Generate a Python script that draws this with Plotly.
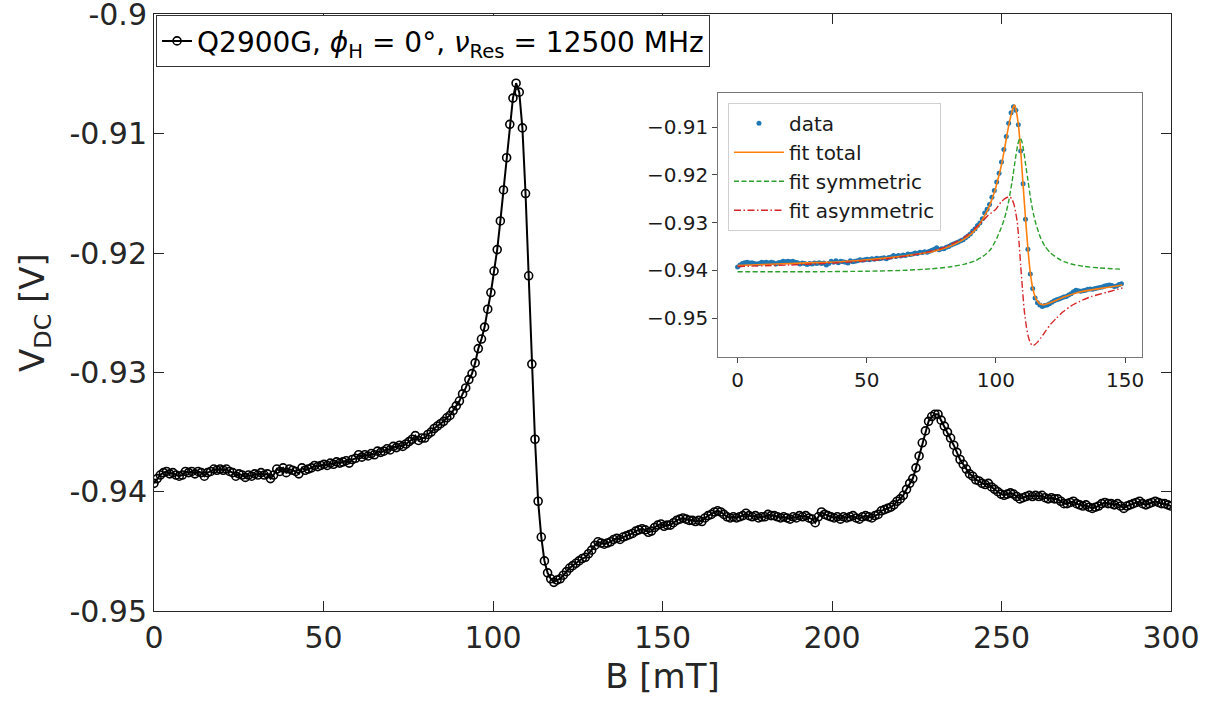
import numpy as np
import plotly.graph_objects as go

# ---------------- data ----------------
B_START, B_STOP, N_POINTS = 0.0, 300.0, 324
B_mT = np.linspace(B_START, B_STOP, N_POINTS)

V_DC = [
    -0.9393, -0.9389, -0.9386, -0.9384, -0.9383, -0.9385, -0.9384, -0.9386, -0.9387, -0.9386,
    -0.9383, -0.9384, -0.9383, -0.9385, -0.9383, -0.9384, -0.9387, -0.9384, -0.9383, -0.9381,
    -0.9382, -0.9381, -0.9382, -0.9381, -0.9383, -0.9384, -0.9387, -0.9385, -0.9386, -0.9388,
    -0.9386, -0.9387, -0.9385, -0.9386, -0.9384, -0.9386, -0.9385, -0.9389, -0.9386, -0.9381,
    -0.9383, -0.9380, -0.9384, -0.9381, -0.9382, -0.9383, -0.9385, -0.9380, -0.9382, -0.9381,
    -0.9380, -0.9378, -0.9379, -0.9378, -0.9377, -0.9378, -0.9376, -0.9377, -0.9375, -0.9376,
    -0.9375, -0.9374, -0.9376, -0.9373, -0.9372, -0.9369, -0.9371, -0.9369, -0.9370, -0.9368,
    -0.9369, -0.9366, -0.9367, -0.9366, -0.9364, -0.9365, -0.9362, -0.9363, -0.9361, -0.9362,
    -0.9360, -0.9358, -0.9356, -0.9353, -0.9357, -0.9355, -0.9355, -0.9352, -0.9350, -0.9347,
    -0.9345, -0.9343, -0.9341, -0.9338, -0.9336, -0.9332, -0.9328, -0.9324, -0.9318, -0.9313,
    -0.9306, -0.9301, -0.9292, -0.9280, -0.9272, -0.9262, -0.9247, -0.9233, -0.9215, -0.9197,
    -0.9173, -0.9147, -0.9120, -0.9092, -0.9070, -0.90575, -0.9065, -0.9095, -0.9150, -0.9219,
    -0.9293, -0.9356, -0.9408, -0.9438, -0.9458, -0.9468, -0.9473, -0.9476, -0.9474, -0.9473,
    -0.9470, -0.9467, -0.9464, -0.9462, -0.9460, -0.9458, -0.9456, -0.9455, -0.9452, -0.9449,
    -0.9445, -0.9442, -0.9443, -0.9444, -0.9443, -0.9442, -0.9440, -0.9439, -0.9440, -0.9438,
    -0.9437, -0.9436, -0.9435, -0.9433, -0.9432, -0.9431, -0.9432, -0.9434, -0.9433, -0.9430,
    -0.9428, -0.9427, -0.9429, -0.9428, -0.9428, -0.9426, -0.9424, -0.9423, -0.9422, -0.9423,
    -0.9424, -0.9424, -0.9425, -0.9424, -0.9425, -0.9422, -0.9420, -0.9419, -0.9417, -0.9416,
    -0.9417, -0.9419, -0.9421, -0.9422, -0.9421, -0.9422, -0.9421, -0.9420, -0.9418, -0.9420,
    -0.9421, -0.9420, -0.9422, -0.9421, -0.9421, -0.9419, -0.9420, -0.9420, -0.9421, -0.9422,
    -0.9421, -0.9422, -0.9423, -0.9421, -0.9422, -0.9420, -0.9421, -0.9420, -0.9422, -0.9423,
    -0.9426, -0.9421, -0.9417, -0.9419, -0.9420, -0.9421, -0.9422, -0.9421, -0.9423, -0.9421,
    -0.9422, -0.9421, -0.9420, -0.9422, -0.9423, -0.9421, -0.9420, -0.9421, -0.9422, -0.9420,
    -0.9419, -0.9416, -0.9415, -0.9414, -0.9413, -0.9411, -0.9408, -0.9406, -0.9403, -0.9398,
    -0.9393, -0.9389, -0.9380, -0.9370, -0.9359, -0.9349, -0.9341, -0.9337, -0.9335, -0.9335,
    -0.9340, -0.9345, -0.9350, -0.9355, -0.9361, -0.9367, -0.9373, -0.9377, -0.9381, -0.9385,
    -0.9387, -0.9390, -0.9391, -0.9393, -0.9394, -0.9393, -0.9396, -0.9398, -0.9400, -0.9402,
    -0.9403, -0.9402, -0.9401, -0.9402, -0.9404, -0.9406, -0.9405, -0.9404, -0.9403, -0.9404,
    -0.9403, -0.9404, -0.9403, -0.9405, -0.9406, -0.9405, -0.9406, -0.9406, -0.9408, -0.9410,
    -0.9410, -0.9409, -0.9408, -0.9410, -0.9411, -0.9412, -0.9411, -0.9413, -0.9414, -0.9413,
    -0.9412, -0.9410, -0.9409, -0.9410, -0.9410, -0.9411, -0.9410, -0.9412, -0.9414, -0.9412,
    -0.9411, -0.9410, -0.9409, -0.9408, -0.9410, -0.9411, -0.9410, -0.9409, -0.9408, -0.9409,
    -0.9410, -0.9410, -0.9411, -0.9412,
]

INSET_B_MAX = 149.0

# fit curves of the inset
FIT_TOTAL_B = [0, 10, 20, 30, 40, 50, 60, 70, 76, 82, 86, 89, 91.5, 93.5, 95.5, 97.5, 99.5,
               101, 102.2, 103.2, 104.1, 105, 106, 106.8, 107.2, 107.7, 108.2, 108.7, 109.6,
               110.5, 111.5, 112.4, 113.3, 114.2, 115.2, 116.1, 117, 118.5, 120, 122, 125,
               128, 132, 137, 143, 149]
FIT_TOTAL_V = [-0.9390, -0.9388, -0.9386, -0.9384, -0.9382, -0.9378, -0.9373, -0.9366, -0.9360,
               -0.9350, -0.9340, -0.9330, -0.9318, -0.9305, -0.9287, -0.9265, -0.9235, -0.9205,
               -0.9178, -0.9150, -0.9122, -0.9096, -0.9072, -0.9057, -0.9054, -0.9062, -0.9076,
               -0.9095, -0.9150, -0.9219, -0.9293, -0.9355, -0.9404, -0.9436, -0.9456, -0.9465,
               -0.9470, -0.9472, -0.9470, -0.9466, -0.9459, -0.9453, -0.9446, -0.9441, -0.9436,
               -0.9431]

FIT_SYM_B = [0, 30, 50, 65, 75, 82, 88, 92, 95, 98, 100.5, 102, 103.1, 104, 105, 106.3, 107.6,
             108.5, 109.3, 110, 110.9, 111.5, 112.2, 113.5, 114.5, 115.4, 116.5, 117.3, 119,
             121.2, 124, 126.4, 130, 134.2, 140, 149]
FIT_SYM_V = [-0.9403, -0.9403, -0.9402, -0.9400, -0.9397, -0.9393, -0.9387, -0.9380, -0.9371,
             -0.9356, -0.9331, -0.9312, -0.9295, -0.9278, -0.9254, -0.9213, -0.9165, -0.9136,
             -0.9123, -0.9129, -0.9155, -0.9178, -0.9204, -0.9252, -0.9281, -0.9301, -0.9320,
             -0.9332, -0.9350, -0.9364, -0.9375, -0.9382, -0.9388, -0.9392, -0.9395, -0.9398]

FIT_ASYM_B = [0, 20, 40, 55, 70, 80, 88, 93, 97, 100, 102, 103.5, 104.5, 105.4, 106.2, 107,
              107.6, 108.3, 109, 109.6, 110.3, 111, 111.8, 112.6, 113.4, 114.2, 115, 116.2,
              117.5, 119.3, 121.2, 123.5, 126, 129, 132.5, 137, 143, 149]
FIT_ASYM_V = [-0.9392, -0.9389, -0.9384, -0.9378, -0.9366, -0.9352, -0.9330, -0.9307, -0.9285,
              -0.9272, -0.9257, -0.9250, -0.9247, -0.9246, -0.9251, -0.9262, -0.9277, -0.9300,
              -0.9345, -0.9390, -0.9440, -0.9485, -0.9518, -0.9540, -0.9553, -0.9558, -0.9556,
              -0.9550, -0.9541, -0.9527, -0.9513, -0.9500, -0.9487, -0.9475, -0.9465, -0.9455,
              -0.9446, -0.9437]

MAIN_X_TICKS = [0, 50, 100, 150, 200, 250, 300]
MAIN_Y_TICKS = [-0.95, -0.94, -0.93, -0.92, -0.91, -0.9]
MAIN_Y_TICKTEXT = ["-0.95", "-0.94", "-0.93", "-0.92", "-0.91", "-0.9"]
INSET_X_TICKS = [0, 50, 100, 150]
INSET_Y_TICKS = [-0.95, -0.94, -0.93, -0.92, -0.91]
INSET_Y_TICKTEXT = ["\u22120.95", "\u22120.94", "\u22120.93", "\u22120.92", "\u22120.91"]

LEGEND_MAIN = "Q2900G, <i>\u03d5</i><sub>H</sub> = 0\u00b0, <i>\u03bd</i><sub>Res</sub> = 12500 MHz"

# ---------------- figure ----------------
FONT = "DejaVu Sans"
AX_COL = "#262626"

B_arr = np.asarray(B_mT)
V_arr = np.asarray(V_DC)
mask = B_arr <= INSET_B_MAX

fig = go.Figure()

fig.add_trace(go.Scatter(
    x=B_arr, y=V_arr, mode="lines+markers", name=LEGEND_MAIN,
    line=dict(color="black", width=2),
    marker=dict(symbol="circle-open", size=8, color="black", line=dict(width=1.6, color="black")),
    xaxis="x", yaxis="y", legend="legend",
))

fig.add_trace(go.Scatter(
    x=B_arr[mask], y=V_arr[mask], mode="markers", name="data",
    marker=dict(symbol="circle", size=5, color="#1f77b4"),
    xaxis="x2", yaxis="y2", legend="legend2",
))
fig.add_trace(go.Scatter(
    x=FIT_TOTAL_B, y=FIT_TOTAL_V, mode="lines", name="fit total",
    line=dict(color="#ff7f0e", width=1.6, shape="spline", smoothing=0.6),
    xaxis="x2", yaxis="y2", legend="legend2",
))
fig.add_trace(go.Scatter(
    x=FIT_SYM_B, y=FIT_SYM_V, mode="lines", name="fit symmetric",
    line=dict(color="#2ca02c", width=1.4, dash="5px,2.5px", shape="spline", smoothing=0.6),
    xaxis="x2", yaxis="y2", legend="legend2",
))
fig.add_trace(go.Scatter(
    x=FIT_ASYM_B, y=FIT_ASYM_V, mode="lines", name="fit asymmetric",
    line=dict(color="#d62728", width=1.4, dash="7px,2.5px,1.5px,2.5px", shape="spline", smoothing=0.6),
    xaxis="x2", yaxis="y2", legend="legend2",
))

fig.update_layout(
    width=1225, height=702,
    margin=dict(l=154, r=54, t=14, b=91, autoexpand=False),
    paper_bgcolor="white", plot_bgcolor="white",
    font=dict(family=FONT, color=AX_COL),
    xaxis=dict(
        domain=[0, 1], range=[0, 300], tickvals=MAIN_X_TICKS,
        ticks="inside", ticklen=10, tickwidth=1, tickcolor=AX_COL,
        showline=True, linecolor=AX_COL, linewidth=1, mirror="ticks",
        showgrid=False, zeroline=False,
        tickfont=dict(size=30, color=AX_COL, family=FONT),
        title=dict(text="B [mT]", font=dict(size=34, color=AX_COL, family=FONT), standoff=10),
        anchor="y", ticklabeloverflow="allow",
    ),
    yaxis=dict(
        domain=[0, 1], range=[-0.95, -0.89995], tickvals=MAIN_Y_TICKS, ticktext=MAIN_Y_TICKTEXT,
        ticks="inside", ticklen=10, tickwidth=1, tickcolor=AX_COL,
        showline=True, linecolor=AX_COL, linewidth=1, mirror="ticks",
        showgrid=False, zeroline=False,
        tickfont=dict(size=30, color=AX_COL, family=FONT),
        title=dict(text="V<sub>DC</sub> [V]", font=dict(size=34, color=AX_COL, family=FONT), standoff=14),
        anchor="x", ticklabeloverflow="allow",
    ),
    xaxis2=dict(
        domain=[0.5549, 0.9712], range=[-7.45, 156.45], tickvals=INSET_X_TICKS,
        ticks="outside", ticklen=5, tickwidth=1, tickcolor="#444",
        showline=True, linecolor="#777", linewidth=1, mirror=True,
        showgrid=False, zeroline=False,
        tickfont=dict(size=20, color="#1a1a1a", family=FONT),
        anchor="y2",
    ),
    yaxis2=dict(
        domain=[0.4260, 0.8682], range=[-0.9581, -0.9028], tickvals=INSET_Y_TICKS,
        ticktext=INSET_Y_TICKTEXT,
        ticks="outside", ticklen=5, tickwidth=1, tickcolor="#444",
        showline=True, linecolor="#777", linewidth=1, mirror=True,
        showgrid=False, zeroline=False,
        tickfont=dict(size=20, color="#1a1a1a", family=FONT),
        anchor="x2",
    ),
    legend=dict(
        x=0.002, y=0.998, xanchor="left", yanchor="top",
        bgcolor="white", bordercolor="#333", borderwidth=1,
        font=dict(size=28, color="black", family=FONT),
        itemwidth=30, tracegroupgap=0,
    ),
    legend2=dict(
        x=0.5644, y=0.8514, xanchor="left", yanchor="top",
        bgcolor="rgba(255,255,255,0.85)", bordercolor="#d0d0d0", borderwidth=1,
        font=dict(size=20, color="#1a1a1a", family=FONT),
        itemwidth=50, tracegroupgap=0,
    ),
    showlegend=True,
)

# remove the browser's default 8px body margin so the figure fills the window exactly
fig.write_html(
    "out.html",
    config={"displayModeBar": False},
    post_script="document.body.style.margin='0';document.body.style.overflow='hidden';",
)
